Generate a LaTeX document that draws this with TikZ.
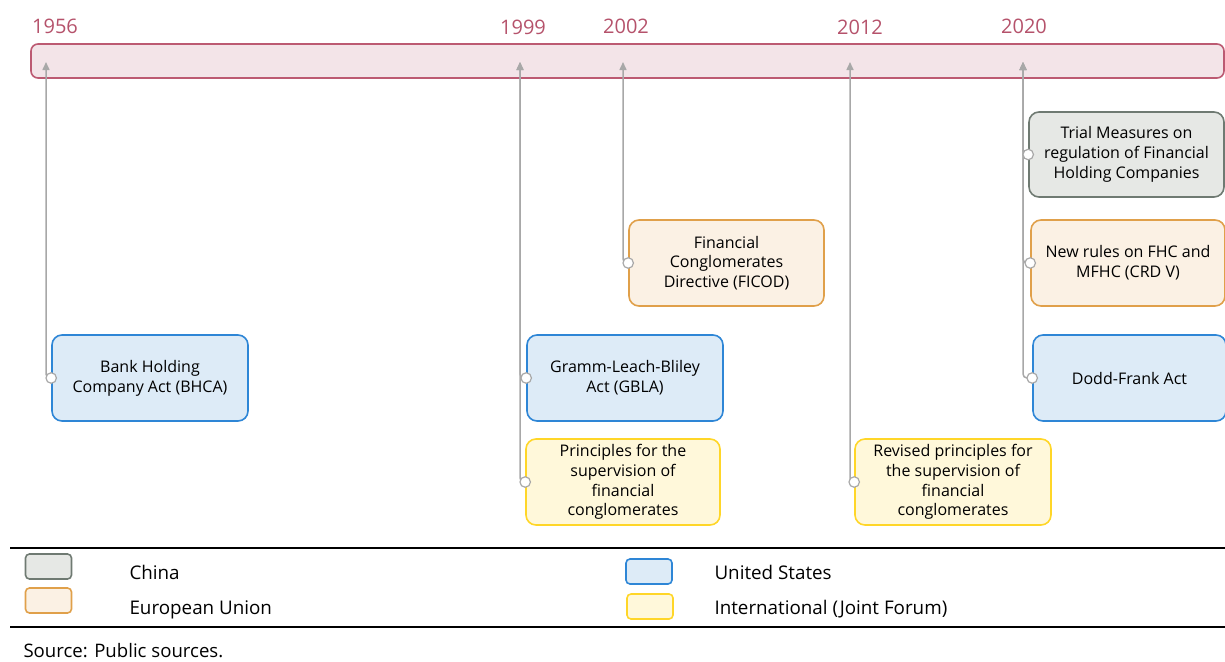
\documentclass[tikz,border=0pt]{standalone}
\usepackage{fontspec}
\setmainfont{Open Sans}
\usetikzlibrary{arrows.meta}
\definecolor{barfill}{HTML}{F3E4E8}
\definecolor{barline}{HTML}{BC5A72}
\definecolor{yearcol}{HTML}{B5526B}
\definecolor{usfill}{HTML}{DDEBF7}
\definecolor{usline}{HTML}{2E86D6}
\definecolor{eufill}{HTML}{FBF1E4}
\definecolor{euline}{HTML}{E0A04A}
\definecolor{intfill}{HTML}{FFF8DA}
\definecolor{intline}{HTML}{FFD628}
\definecolor{cnfill}{HTML}{E6E8E5}
\definecolor{cnline}{HTML}{6F7A72}
\definecolor{conncol}{HTML}{A8A8A8}
\tikzset{
  evbox/.style={draw, line width=1.6pt, rounded corners=10pt, align=center, font=\fontsize{16}{19.8}\selectfont, inner sep=0pt},
  us/.style={evbox, fill=usfill, draw=usline},
  eu/.style={evbox, fill=eufill, draw=euline},
  intl/.style={evbox, fill=intfill, draw=intline},
  cn/.style={evbox, fill=cnfill, draw=cnline},
  dot/.style={circle, draw=conncol, fill=white, line width=1.2pt, minimum size=10.5pt, inner sep=0pt},
  conn/.style={draw=conncol, line width=1.5pt, rounded corners=4pt, -{Triangle[width=7pt,length=8pt]}},
  year/.style={text=yearcol, font=\fontsize{20}{24}\selectfont, anchor=base},
  legbox/.style={draw, line width=1.6pt, rounded corners=4pt, minimum width=46pt, minimum height=25pt, inner sep=0pt},
  legtext/.style={anchor=base west, font=\fontsize{18.8}{22}\selectfont},
}
\begin{document}
\begin{tikzpicture}[x=1pt,y=-1pt]
\useasboundingbox (0,0) rectangle (1225,661);
% timeline bar
\node[draw=barline, fill=barfill, line width=1.6pt, rounded corners=7pt, minimum width=1193pt, minimum height=34pt, inner sep=0pt] (bar) at (627.5,61) {};
\node[year] (y1956) at (55,34) {1956};
\node[year] (y1999) at (523,35) {1999};
\node[year] (y2002) at (626,34) {2002};
\node[year] (y2012) at (860,35) {2012};
\node[year] (y2020) at (1024,34) {2020};
\coordinate (t1956) at (46,62);
\coordinate (t1999) at (520,62);
\coordinate (t2002) at (623,62);
\coordinate (t2012) at (850,62);
\coordinate (t2020) at (1023,62);
% boxes
\node[us, minimum width=196pt, minimum height=86pt] (bhca) at (150,378) {Bank Holding\\Company Act (BHCA)};
\node[us, minimum width=196pt, minimum height=86pt] (gbla) at (625,378) {Gramm-Leach-Bliley\\Act (GBLA)};
\node[intl, minimum width=194pt, minimum height=86pt] (princ) at (623,482) {Principles for the\\supervision of\\financial\\conglomerates};
\node[eu, minimum width=195pt, minimum height=86pt] (ficod) at (726.5,263) {Financial\\Conglomerates\\Directive (FICOD)};
\node[intl, minimum width=196pt, minimum height=86pt] (rev) at (953,482) {Revised principles for\\the supervision of\\financial\\conglomerates};
\node[cn, minimum width=195pt, minimum height=85pt] (trial) at (1126.5,154.5) {Trial Measures on\\regulation of Financial\\Holding Companies};
\node[eu, minimum width=194pt, minimum height=86pt] (crd) at (1128,263) {New rules on FHC and\\MFHC (CRD V)};
\node[us, minimum width=193pt, minimum height=86pt] (dodd) at (1129.5,378) {Dodd-Frank Act};
% connectors
\draw[conn] (bhca.west) -| (t1956);
\draw[conn] (gbla.west) -| (t1999);
\draw[conn] (princ.west) -| (t1999);
\draw[conn] (ficod.west) -| (t2002);
\draw[conn] (rev.west) -| (t2012);
\draw[conn] (trial.west) -| (t2020);
\draw[conn] (crd.west) -| (t2020);
\draw[conn] (dodd.west) -| (t2020);
\foreach \b in {bhca,gbla,princ,ficod,rev,trial,crd,dodd}
  \node[dot] (d\b) at (\b.west) {};
% legend
\draw[line width=1.8pt] (10,548) coordinate (l1a) -- (1225,548) coordinate (l1b);
\draw[line width=1.8pt] (10,627) coordinate (l2a) -- (1225,627) coordinate (l2b);
\node[legbox, draw=cnline, fill=cnfill] (lcn) at (48.5,566.5) {};
\node[legbox, draw=euline, fill=eufill] (leu) at (48.5,600.5) {};
\node[legbox, draw=usline, fill=usfill] (lus) at (649,571.5) {};
\node[legbox, draw=intline, fill=intfill] (lint) at (650,606.5) {};
\node[legtext] (tcn) at (126,579) {China};
\node[legtext] (teu) at (126,614) {European Union};
\node[legtext] (tus) at (711,579) {United States};
\node[legtext] (tint) at (711,614) {International (Joint Forum)};
\node[anchor=base west, font=\fontsize{18.6}{22}\selectfont] (src) at (20,657) {Source: Public sources.};
\end{tikzpicture}
\end{document}
